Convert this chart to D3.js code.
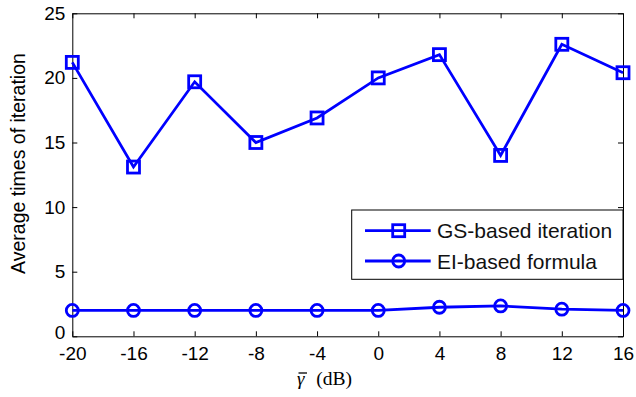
<!DOCTYPE html>
<meta charset="utf-8">
<script src="https://d3js.org/d3.v7.min.js"></script>
<style>
  body { margin: 0; background: #fff; }
  text { font-family: "Liberation Sans", Arial, sans-serif; }
</style>
<svg id="chart" width="636" height="397"></svg>
<script>
// data
const snrDb = [-20, -16, -12, -8, -4, 0, 4, 8, 12, 16];
const gsIter = [21.2, 13.1, 19.7, 15.0, 16.9, 20.0, 21.8, 14.0, 22.6, 20.4];
const eiFormula = [2.0, 2.0, 2.0, 2.0, 2.0, 2.0, 2.25, 2.35, 2.1, 2.0];
const yTicks = [0, 5, 10, 15, 20, 25];
const seriesNames = ["GS-based iteration", "EI-based formula"];

const svg = d3.select('#chart');
const mL = 72.3, mR = 623, mT = 13.3, mB = 336.3;
const blue = "#0000ff";

const x = d3.scaleLinear().domain([-20, 16]).range([mL, mR]);
const y = d3.scaleLinear().domain([0, 25]).range([mB, mT]);

// axes with inward ticks
const fs = "19px";
const xAx = svg.append("g").attr("transform", `translate(0,${mB})`)
  .call(d3.axisBottom(x).tickValues(snrDb).tickSizeInner(-5).tickSizeOuter(0).tickPadding(10));
const xTop = svg.append("g").attr("transform", `translate(0,${mT})`)
  .call(d3.axisTop(x).tickValues(snrDb).tickSizeInner(-5).tickSizeOuter(0).tickFormat(""));
const yAx = svg.append("g").attr("transform", `translate(${mL},0)`)
  .call(d3.axisLeft(y).tickValues(yTicks).tickSizeInner(-5).tickSizeOuter(0).tickPadding(7));
const yRight = svg.append("g").attr("transform", `translate(${mR},0)`)
  .call(d3.axisRight(y).tickValues(yTicks).tickSizeInner(-5).tickSizeOuter(0).tickFormat(""));

[xAx, xTop, yAx, yRight].forEach(g => {
  g.selectAll("path.domain").attr("stroke", "#000").attr("stroke-width", 1);
  g.selectAll(".tick line").attr("stroke", "#000");
  g.selectAll("text").attr("font-size", fs).attr("fill", "#000");
});
xAx.selectAll("text").text(d => d < 0 ? "-" + Math.abs(d) : d);
// the "0" label sits a touch up so it clears "-20"
yAx.selectAll(".tick text").filter(d => d === 0).attr("dy", "0.1em");

// lines
const line = d3.line().x(d => x(d[0])).y(d => y(d[1]));
const gsPts = snrDb.map((d, i) => [d, gsIter[i]]);
const eiPts = snrDb.map((d, i) => [d, eiFormula[i]]);

svg.append("path").datum(gsPts).attr("d", line)
  .attr("fill", "none").attr("stroke", blue).attr("stroke-width", 2.8);
svg.append("path").datum(eiPts).attr("d", line)
  .attr("fill", "none").attr("stroke", blue).attr("stroke-width", 2.8);

const sq = 12;
svg.append("g").selectAll("rect").data(gsPts).join("rect")
  .attr("x", d => x(d[0]) - sq / 2).attr("y", d => y(d[1]) - sq / 2)
  .attr("width", sq).attr("height", sq)
  .attr("fill", "none").attr("stroke", blue).attr("stroke-width", 2.8);
svg.append("g").selectAll("circle").data(eiPts).join("circle")
  .attr("cx", d => x(d[0])).attr("cy", d => y(d[1])).attr("r", 6)
  .attr("fill", "none").attr("stroke", blue).attr("stroke-width", 2.8);

// legend
const lg = svg.append("g");
lg.append("rect").attr("x", 351.7).attr("y", 210).attr("width", mR - 351.7).attr("height", 69.3)
  .attr("fill", "#fff").attr("stroke", "#000").attr("stroke-width", 1);
const rowsY = [230.7, 261];
seriesNames.forEach((name, i) => {
  const ry = rowsY[i];
  lg.append("line").attr("x1", 365).attr("x2", 430.7).attr("y1", ry).attr("y2", ry)
    .attr("stroke", blue).attr("stroke-width", 2.8);
  if (i === 0) {
    lg.append("rect").attr("x", 398.7 - sq / 2).attr("y", ry - sq / 2).attr("width", sq).attr("height", sq)
      .attr("fill", "none").attr("stroke", blue).attr("stroke-width", 2.8);
  } else {
    lg.append("circle").attr("cx", 398.7).attr("cy", ry).attr("r", 6)
      .attr("fill", "none").attr("stroke", blue).attr("stroke-width", 2.8);
  }
  lg.append("text").attr("x", 437).attr("y", ry + 7.5).attr("font-size", "21px").attr("fill", "#111").text(name);
});

// axis labels
svg.append("text").attr("transform", "translate(24.5,163.5) rotate(-90)")
  .attr("text-anchor", "middle").attr("font-size", "19.5px").text("Average times of iteration");

const serif = "'Liberation Serif', 'Times New Roman', serif";
svg.append("text").attr("x", 297).attr("y", 385).style("font-family", serif)
  .attr("font-size", "19px").attr("font-style", "italic").text("\u03B3");
svg.append("line").attr("x1", 298.5).attr("x2", 307).attr("y1", 373).attr("y2", 373)
  .attr("stroke", "#000").attr("stroke-width", 1.3);
svg.append("text").attr("x", 352).attr("y", 385).attr("text-anchor", "end")
  .style("font-family", serif).attr("font-size", "19.5px").text("(dB)");
</script>
